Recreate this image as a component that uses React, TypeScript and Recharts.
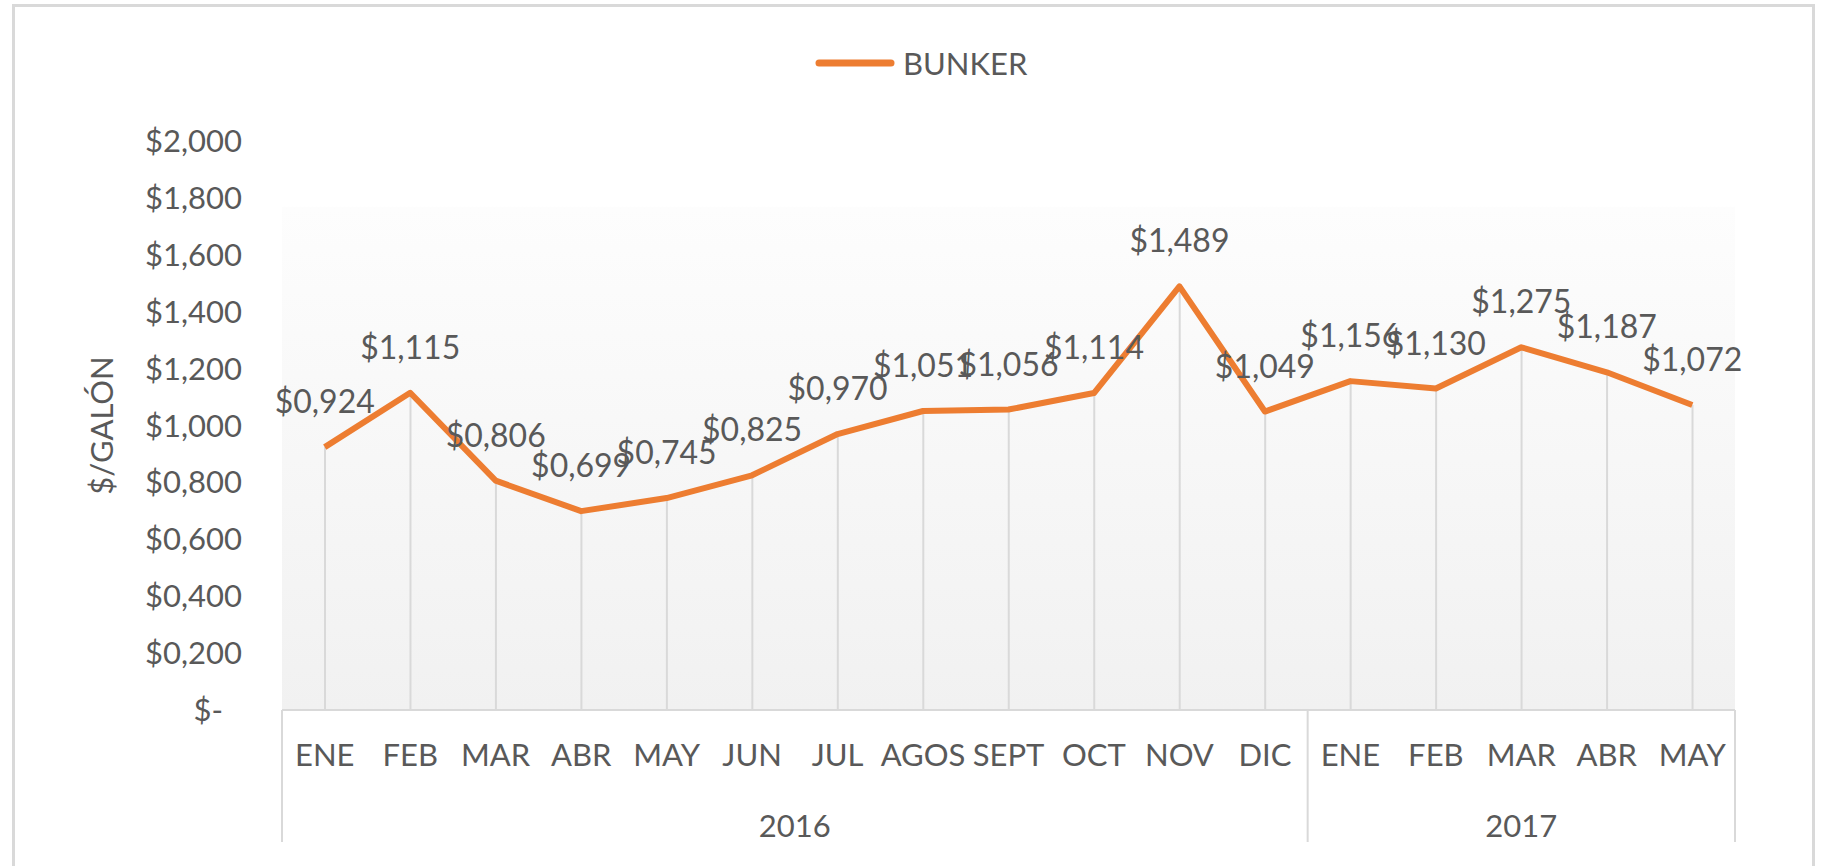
import React from 'react';
import { ComposedChart, Line, Bar, XAxis, YAxis, CartesianGrid, Legend, LabelList } from 'recharts';

const MONTHS = ['ENE', 'FEB', 'MAR', 'ABR', 'MAY', 'JUN', 'JUL', 'AGOS', 'SEPT', 'OCT', 'NOV', 'DIC', 'ENE', 'FEB', 'MAR', 'ABR', 'MAY'];
const BUNKER = [0.924, 1.115, 0.806, 0.699, 0.745, 0.825, 0.97, 1.051, 1.056, 1.114, 1.489, 1.049, 1.156, 1.13, 1.275, 1.187, 1.072];
const YEARS = ['2016', '2017'];
const MONTHS_PER_YEAR = [12, 5];
const Y_TICKS = [0, 0.2, 0.4, 0.6, 0.8, 1, 1.2, 1.4, 1.6, 1.8, 2];
const SERIES_NAME = 'BUNKER';
const AXIS_TITLE = '$/GALÓN';

const data = MONTHS.map((m, i) => ({ idx: i, month: m, value: BUNKER[i] }));

const GROUP_STARTS: number[] = [];
MONTHS_PER_YEAR.reduce((acc, n) => {
  GROUP_STARTS.push(acc);
  return acc + n;
}, 0);
const LAST_INDEX = MONTHS.length - 1;

const TEXT = '#595959';
const GRAYLINE = '#d9d9d9';
const ORANGE = '#ED7D31';
const FONT = 'Lato, "Open Sans", sans-serif';

const fmt = (v: number) => (v === 0 ? '$-' : '$' + v.toFixed(3).replace('.', ','));

const MonthTick = (props: any) => {
  const { x, y, payload } = props;
  return (
    <text x={x} y={y + 56} textAnchor="middle" fill={TEXT} fontSize={31} fontFamily={FONT}>
      {MONTHS[payload.value]}
    </text>
  );
};

const YearTick = (props: any) => {
  const { x, y, payload, width, visibleTicksCount } = props;
  const i = payload.value as number;
  let bw = Number(width) / Number(visibleTicksCount);
  if (!isFinite(bw) || bw <= 0) bw = payload && payload.offset ? payload.offset * 2 : 85.5;
  const items: any[] = [];
  const g = GROUP_STARTS.indexOf(i);
  if (g >= 0) {
    const left = x - bw / 2;
    items.push(<line key="l" x1={left} x2={left} y1={y - 70} y2={y + 62} stroke={GRAYLINE} strokeWidth={2} />);
    items.push(
      <text key="t" x={left + (MONTHS_PER_YEAR[g] * bw) / 2} y={y + 57} textAnchor="middle" fill={TEXT} fontSize={31} fontFamily={FONT}>
        {YEARS[g]}
      </text>
    );
  }
  if (i === LAST_INDEX) {
    const right = x + bw / 2;
    items.push(<line key="r" x1={right} x2={right} y1={y - 70} y2={y + 62} stroke={GRAYLINE} strokeWidth={2} />);
  }
  return <g>{items}</g>;
};

const YTick = (props: any) => {
  const { x, y, payload } = props;
  const v = payload.value;
  return (
    <text x={v === 0 ? x - 19 : x} y={y} dy={11} textAnchor="end" fill={TEXT} fontSize={31} fontFamily={FONT}>
      {fmt(v)}
    </text>
  );
};

const DataLabel = (props: any) => {
  const { x, y, value } = props;
  return (
    <text x={x} y={y - 34} textAnchor="middle" fill={TEXT} fontSize={32} fontFamily={FONT}>
      {fmt(value)}
    </text>
  );
};

const LegendContent = () => (
  <div style={{ height: 40, display: 'flex', alignItems: 'center', fontFamily: FONT }}>
    <svg width={80} height={12} style={{ display: 'block' }}>
      <line x1={4} y1={6} x2={76} y2={6} stroke={ORANGE} strokeWidth={7} strokeLinecap="round" />
    </svg>
    <span style={{ fontSize: 31, color: TEXT, marginLeft: 8, lineHeight: '40px' }}>{SERIES_NAME}</span>
  </div>
);

const AxisTitle = (props: any) => {
  const vb = props.viewBox || {};
  const cx = vb.x + 21;
  const cy = vb.y + vb.height / 2;
  return (
    <text
      x={cx}
      y={cy}
      transform={`rotate(-90 ${cx} ${cy})`}
      textAnchor="middle"
      dominantBaseline="central"
      fill={TEXT}
      fontSize={31}
      fontFamily={FONT}
    >
      {AXIS_TITLE}
    </text>
  );
};

export default function App() {
  return (
    <div style={{ position: 'absolute', left: 0, top: 0, width: 1821, height: 866, background: '#fff', overflow: 'hidden', fontFamily: FONT }}>
      <div
        style={{
          position: 'absolute',
          left: 12,
          top: 4,
          width: 1803,
          height: 900,
          borderTop: `3px solid ${GRAYLINE}`,
          borderLeft: `3px solid ${GRAYLINE}`,
          borderRight: `3px solid ${GRAYLINE}`,
          boxSizing: 'border-box',
        }}
      />
      <div style={{ position: 'absolute', left: 0, top: 0 }}>
        <ComposedChart width={1821} height={866} data={data} margin={{ top: 101, right: 86, bottom: 0, left: 80 }}>
          <defs>
            <linearGradient id="plotBg" x1="0" y1="0" x2="0" y2="1">
              <stop offset="0" stopColor="#ffffff" />
              <stop offset="0.115" stopColor="#ffffff" />
              <stop offset="0.117" stopColor="#fdfdfd" />
              <stop offset="1" stopColor="#f1f1f1" />
            </linearGradient>
          </defs>
          <CartesianGrid xAxisId="m" horizontal={false} vertical={false} fill="url(#plotBg)" stroke="none" />
          <Legend
            verticalAlign="top"
            align="left"
            content={<LegendContent />}
            wrapperStyle={{ top: 43, left: 815, width: 300 }}
          />
          <XAxis
            xAxisId="m"
            dataKey="idx"
            type="category"
            height={70}
            interval={0}
            tickLine={false}
            tickSize={0}
            tickMargin={0}
            axisLine={{ stroke: GRAYLINE, strokeWidth: 2 }}
            tick={<MonthTick />}
          />
          <XAxis
            xAxisId="yr"
            dataKey="idx"
            type="category"
            interval={0}
            height={86}
            tickLine={false}
            tickSize={0}
            tickMargin={0}
            axisLine={false}
            tick={<YearTick />}
          />
          <YAxis
            width={202}
            domain={[0, 2]}
            ticks={Y_TICKS}
            interval={0}
            axisLine={false}
            tickLine={false}
            tickSize={0}
            tickMargin={40}
            tick={<YTick />}
            label={{ content: <AxisTitle /> }}
          />
          <Bar xAxisId="m" dataKey="value" barSize={2} fill={GRAYLINE} isAnimationActive={false} legendType="none" />
          <Bar xAxisId="yr" dataKey="value" barSize={0} fill="none" isAnimationActive={false} legendType="none" />
          <Line
            xAxisId="m"
            dataKey="value"
            name={SERIES_NAME}
            stroke={ORANGE}
            strokeWidth={6}
            strokeLinejoin="round"
            dot={false}
            activeDot={false}
            isAnimationActive={false}
          >
            <LabelList dataKey="value" content={<DataLabel />} />
          </Line>
        </ComposedChart>
      </div>
    </div>
  );
}
